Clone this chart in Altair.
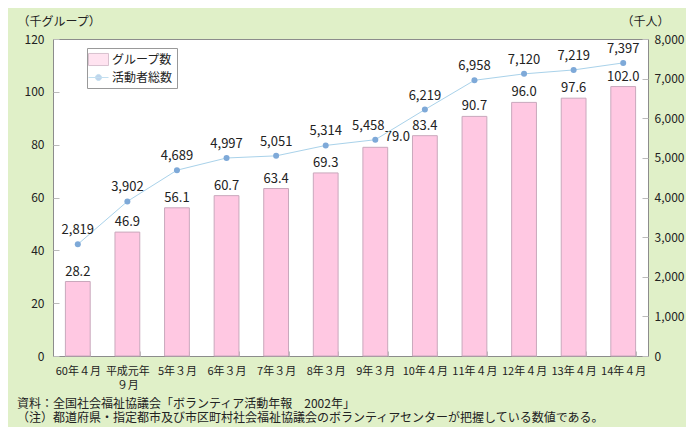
import altair as alt
import pandas as pd

periods = ["60年４月", "平成元年\n９月", "5年３月", "6年３月", "7年３月", "8年３月",
           "9年３月", "10年４月", "11年４月", "12年４月", "13年４月", "14年４月"]
groups = [28.2, 46.9, 56.1, 60.7, 63.4, 69.3, 79.0, 83.4, 90.7, 96.0, 97.6, 102.0]
members = [2819, 3902, 4689, 4997, 5051, 5314, 5458, 6219, 6958, 7120, 7219, 7397]

left_ticks = [0, 20, 40, 60, 80, 100, 120]
right_ticks = [0, 1000, 2000, 3000, 4000, 5000, 6000, 7000, 8000]

series_names = ["グループ数", "活動者総数"]
series_fill = ["#FFC8E2", "#7EA9D8"]
series_stroke = ["#C9A8BC", "#A9D2EA"]
series_shape = ["M-1.43,-0.86L1.43,-0.86L1.43,0.86L-1.43,0.86Z",
                "M-1.43,0L1.43,0M-0.43,0A0.43,0.43,0,1,1,0.43,0A0.43,0.43,0,1,1,-0.43,0Z"]

df = pd.DataFrame({"period": periods, "groups": groups, "members": members})
legend_df = pd.DataFrame({"s": series_names})

FONT = "Noto Sans CJK JP"
TXT = "#222222"
BAR_FILL, BAR_STROKE = series_fill[0], series_stroke[0]
PT_FILL, LINE_COLOR = series_fill[1], series_stroke[1]
NUDGED = periods[6]  # label placed beside the line point in the original

x_enc = alt.X("period:N", sort=periods, title=None,
              scale=alt.Scale(paddingInner=0.5, paddingOuter=0.25),
              axis=alt.Axis(labelAngle=0, labelExpr="split(datum.label, '\\n')",
                            tickBand="extent", tickSize=5, tickColor="#BBBBBB",
                            offset=-5, labelPadding=9, domain=False, labelLineHeight=14,
                            labelFontSize=11))

base = alt.Chart(df).encode(x=x_enc)

y_left = alt.Y("groups:Q", title="（千グループ）",
               scale=alt.Scale(domain=[0, 120]),
               axis=alt.Axis(values=left_ticks, tickSize=6,
                             offset=-6, tickColor="#BBBBBB", labelPadding=9, domain=False,
                             grid=False, titleAngle=0, titleX=-42, titleY=-14,
                             titleAlign="left", titleBaseline="alphabetic"))

bars = base.mark_bar(fill=BAR_FILL, stroke=BAR_STROKE, strokeWidth=1).encode(y=y_left)

bar_labels = base.mark_text(dy=-10, font=FONT, fontSize=13, color=TXT).encode(
    y=y_left,
    text=alt.Text("groups:Q", format=".1f"),
).transform_filter(alt.datum.period != NUDGED)

bar_label_nudged = base.mark_text(dy=-10, dx=22, font=FONT, fontSize=13, color=TXT).encode(
    y=y_left,
    text=alt.Text("groups:Q", format=".1f"),
).transform_filter(alt.datum.period == NUDGED)

left = alt.layer(bars, bar_labels, bar_label_nudged)

y_right = alt.Y("members:Q", title="（千人）",
                scale=alt.Scale(domain=[0, 8000]),
                axis=alt.Axis(orient="right", values=right_ticks,
                              labelExpr="format(datum.value, ',')", labelOverlap=False,
                              tickSize=6, offset=-6, tickColor="#BBBBBB", labelPadding=6,
                              domain=False, grid=False, titleAngle=0, titleX=-21, titleY=-14,
                              titleAlign="left", titleBaseline="alphabetic"))

line = base.mark_line(color=LINE_COLOR, strokeWidth=1).encode(y=y_right)

points = base.mark_point(filled=True, size=36, opacity=1, color=PT_FILL).encode(y=y_right)

line_labels = base.mark_text(dy=-14, font=FONT, fontSize=13, color=TXT).encode(
    y=y_right,
    text=alt.Text("members:Q", format=","),
).transform_filter(alt.datum.period != NUDGED)

line_label_nudged = base.mark_text(dy=-14, dx=-7, font=FONT, fontSize=13, color=TXT).encode(
    y=y_right,
    text=alt.Text("members:Q", format=","),
).transform_filter(alt.datum.period == NUDGED)

right = alt.layer(line, points, line_labels, line_label_nudged)

legend = alt.Legend(
    title=None, orient="none", legendX=34, legendY=9,
    fillColor="white", strokeColor="#999999", padding=4, rowPadding=2,
    labelFont=FONT, labelFontSize=12, labelColor=TXT, labelOffset=6,
    symbolSize=196, symbolStrokeWidth=1)

legend_layer = alt.Chart(legend_df).mark_point(filled=True, strokeWidth=1, size=196).encode(
    x=alt.value(-2000), y=alt.value(-2000),
    fill=alt.Fill("s:N", scale=alt.Scale(domain=series_names, range=series_fill), legend=legend),
    stroke=alt.Stroke("s:N", scale=alt.Scale(domain=series_names, range=series_stroke), legend=legend),
    shape=alt.Shape("s:N", scale=alt.Scale(domain=series_names, range=series_shape), legend=legend),
)

chart = alt.layer(left, right, legend_layer).resolve_scale(y="independent").properties(
    width=595, height=317,
    autosize=alt.AutoSizeParams(type="none"),
    padding={"left": 45, "top": 31, "right": 38, "bottom": 71},
    background="#E0F0C8",
    title=alt.TitleParams(
        text=["資料：全国社会福祉協議会「ボランティア活動年報　2002年」",
              "（注）都道府県・指定都市及び市区町村社会福祉協議会のボランティアセンターが把握している数値である。"],
        orient="bottom", anchor="start", frame="group", dx=-36, offset=9,
        font=FONT, fontSize=12, fontWeight="normal", color=TXT, lineHeight=14),
).configure_view(stroke="#8C8C8C", fill="white").configure_axis(
    labelFont=FONT, labelFontSize=12, labelColor=TXT,
    titleFont=FONT, titleFontSize=12, titleFontWeight="normal", titleColor=TXT,
)

chart.save("out.html", embed_options={"renderer": "svg", "actions": False})
